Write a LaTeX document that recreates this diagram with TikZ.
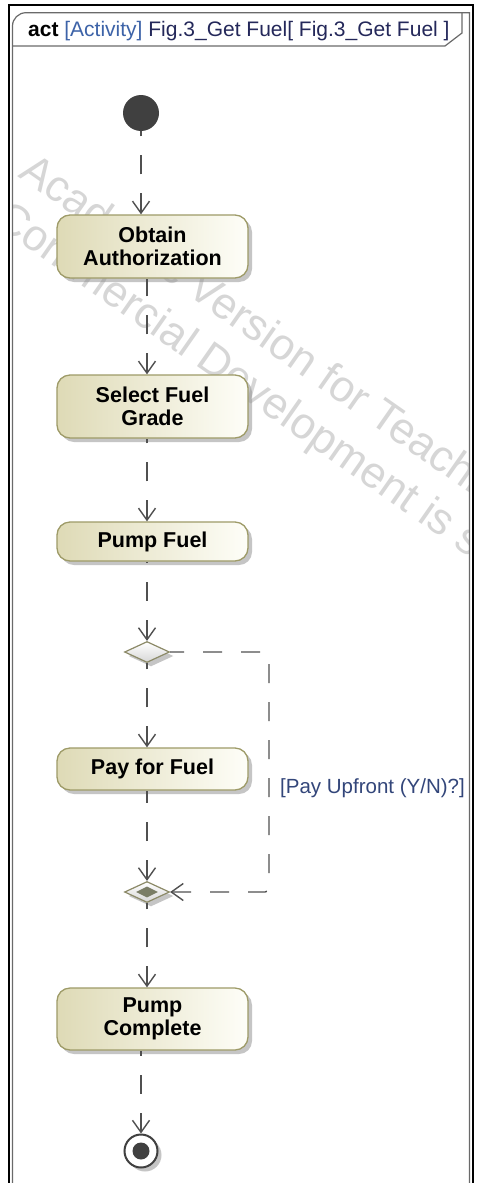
\documentclass[tikz,border=0pt]{standalone}
\usepackage{fontspec}
\setmainfont{Liberation Sans}
\usetikzlibrary{shapes.geometric,arrows.meta,shadows}

\definecolor{actleft}{HTML}{DEDAB6}
\definecolor{actright}{HTML}{FEFEF8}
\definecolor{actborder}{HTML}{9E9B68}
\definecolor{diaborder}{HTML}{8C8A68}
\definecolor{mergecore}{HTML}{7A7D66}
\definecolor{flowgray}{HTML}{505050}
\definecolor{nodegray}{HTML}{404040}
\definecolor{framegray}{HTML}{6A6A6A}
\definecolor{kindblue}{HTML}{3D63A8}
\definecolor{namenavy}{HTML}{24285A}
\definecolor{guardblue}{HTML}{33467A}
\definecolor{stampgray}{HTML}{D6D6D6}

\begin{document}
\begin{tikzpicture}[x=1pt,y=-1pt,
  shade/.style={drop shadow={shadow xshift=4pt,shadow yshift=-4pt,fill=black!45,opacity=0.5}},
  action/.style={rectangle,draw=actborder,line width=1.3pt,rounded corners=13pt,
    left color=actleft,right color=actright,minimum width=191pt,inner sep=0pt,
    align=center,text=black,font=\fontsize{21.5}{23}\selectfont\bfseries,shade},
  decision/.style={diamond,draw=diaborder,line width=1.2pt,top color=white,
    bottom color=black!16,minimum width=45pt,minimum height=21pt,inner sep=0pt,shade},
  flow/.style={draw=flowgray,line width=1.4pt,dash pattern=on 19pt off 19pt,
    {Straight Barb[length=12pt,width=17pt,line width=1.4pt]}-},
  stamp/.style={text=stampgray,font=\fontsize{44}{53}\selectfont,rotate=-35,
    anchor=base west,inner sep=0pt}
]
\useasboundingbox (0,0) rectangle (478,1183);
\fill[white] (0,0) rectangle (478,1183);

% licence stamp behind the diagram, kept inside the frame
\begin{scope}
  \clip (13,47) rectangle (469,1183);
  \node[stamp] (stampA) at (17,176) {Academic Version for Teaching Only};
  \node[stamp] (stampB) at (-8,223) {Commercial Development is strictly prohibited};
\end{scope}

% outer border and diagram frame with its name tab
\draw[black,line width=2pt] (8.5,1183) -- (8.5,5) -- (472.5,5) -- (472.5,1183);
\draw[framegray,line width=1.2pt] (12.5,1183) -- (12.5,26) arc[start angle=180,end angle=270,x radius=13.5pt,y radius=-13.3pt]
  -- (469.5,12.7) -- (469.5,1183);
\draw[framegray,line width=1.2pt] (12.5,46) -- (445,46) -- (462,33) -- (462,12.7);
\node[anchor=base west,inner sep=0pt,font=\fontsize{21}{23}\selectfont] (title) at (28,36)
  {\textbf{act} \textcolor{kindblue}{[Activity]} \textcolor{namenavy}{Fig.3\_Get Fuel[ Fig.3\_Get Fuel ]}};

% activity nodes
\node[circle,fill=nodegray,minimum size=36pt,inner sep=0pt] (init) at (141,113) {};
\node[action,minimum height=63pt] (obtain) at (152.5,246.5) {Obtain\\Authorization};
\node[action,minimum height=63pt] (select) at (152.5,406.5) {Select Fuel\\Grade};
\node[action,minimum height=39pt] (pump) at (152.5,541.5) {Pump Fuel};
\node[decision] (dec) at (147,652) {};
\node[action,minimum height=42pt] (pay) at (152.5,769) {Pay for Fuel};
\node[decision] (merge) at (147,892) {};
\node[diamond,fill=mergecore,minimum width=22pt,minimum height=11pt,inner sep=0pt] (mergedot) at (merge) {};
\node[action,minimum height=62pt] (complete) at (152.5,1019) {Pump\\Complete};
\node[circle,draw=nodegray,line width=2pt,fill=white,minimum size=33pt,inner sep=0pt,shade] (final) at (141,1151) {};
\node[circle,fill=nodegray,minimum size=17pt,inner sep=0pt] (finaldot) at (final) {};

% control flows, traced from target back to source so each tip sits on a full dash
\draw[flow] (init.south |- obtain.north) -- (init.south);
\draw[flow] (dec.north |- select.north) -- (dec.north |- obtain.south);
\draw[flow] (dec.north |- pump.north) -- (dec.north |- select.south);
\draw[flow] (dec.north) -- (dec.north |- pump.south);
\draw[flow] (dec.south |- pay.north) -- (dec.south);
\coordinate (loopturn) at (269,652);
\draw[flow,rounded corners=4pt] (merge.east) -| (loopturn) -- (dec.east);
\draw[flow] (merge.north) -- (merge.north |- pay.south);
\draw[flow] (merge.south |- complete.north) -- (merge.south);
\draw[flow] (final.north) -- (final.north |- complete.south);

\node[anchor=base west,inner sep=0pt,text=guardblue,font=\fontsize{20.5}{23}\selectfont] (guard) at (280,793) {[Pay Upfront (Y/N)?]};
\end{tikzpicture}
\end{document}
